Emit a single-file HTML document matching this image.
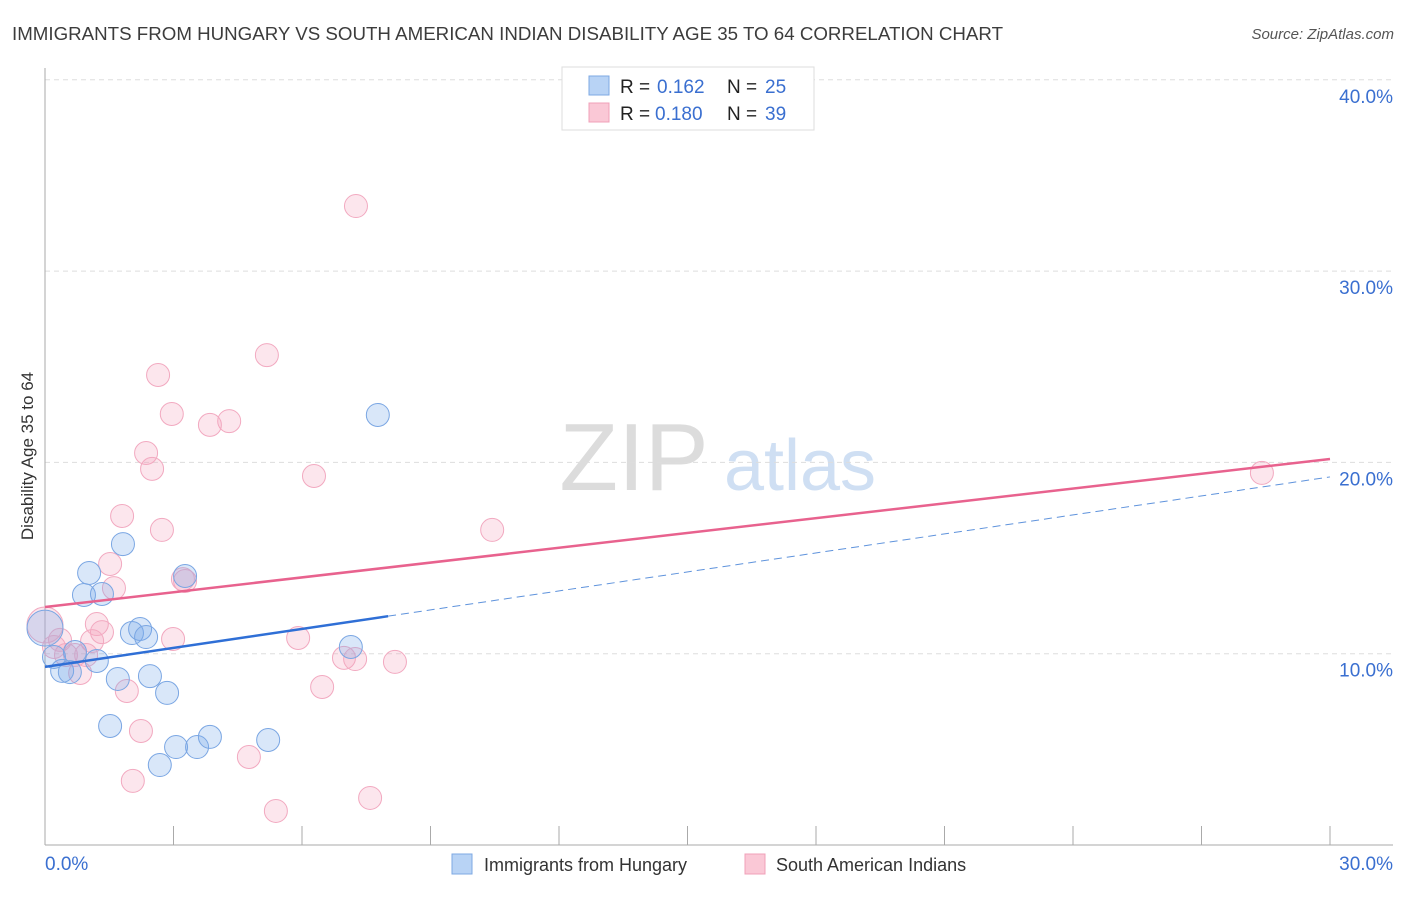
<!DOCTYPE html>
<html><head><meta charset="utf-8"><style>
body{margin:0;background:#fff;font-family:"Liberation Sans",sans-serif}
svg text{font-family:"Liberation Sans",sans-serif}
</style></head><body>
<svg id="chart" width="1406" height="892" xmlns="http://www.w3.org/2000/svg">
<text x="12" y="40" font-size="18" fill="#3c3c3c" textLength="991" lengthAdjust="spacingAndGlyphs">IMMIGRANTS FROM HUNGARY VS SOUTH AMERICAN INDIAN DISABILITY AGE 35 TO 64 CORRELATION CHART</text>
<text x="1394" y="39" font-size="15" fill="#555" text-anchor="end" font-style="italic">Source: ZipAtlas.com</text>
<text transform="translate(33,456) rotate(-90)" font-size="17" fill="#333" text-anchor="middle">Disability Age 35 to 64</text>
<g>
<text x="634" y="490" font-size="96" font-family="Liberation Serif" fill="#dcdcdc" text-anchor="middle">ZIP</text>
<text x="800" y="490" font-size="72" fill="#cfdff3" text-anchor="middle">atlas</text>
</g>
<g id="grid"></g><g id="axes"></g><g id="marks"></g><g id="trends"></g>
<g>
<rect x="562" y="67" width="252" height="63" fill="#fff" stroke="#ddd"/>
<rect x="589" y="76" width="20" height="19" fill="#b8d3f5" stroke="#7ea8e3"/>
<rect x="589" y="103" width="20" height="19" fill="#fac8d6" stroke="#f0a0b8"/>
<text x="620" y="93" font-size="19" fill="#222">R =</text>
<text x="657" y="93" font-size="19" fill="#3a6fd0">0.162</text>
<text x="727" y="93" font-size="19" fill="#222">N =</text>
<text x="765" y="93" font-size="19" fill="#3a6fd0">25</text>
<text x="620" y="120" font-size="19" fill="#222">R =</text>
<text x="655" y="120" font-size="19" fill="#3a6fd0">0.180</text>
<text x="727" y="120" font-size="19" fill="#222">N =</text>
<text x="765" y="120" font-size="19" fill="#3a6fd0">39</text>
</g>
<g>
<rect x="452" y="854" width="20" height="20" fill="#b8d3f5" stroke="#7ea8e3"/>
<text x="484" y="871" font-size="18" fill="#333">Immigrants from Hungary</text>
<rect x="745" y="854" width="20" height="20" fill="#fac8d6" stroke="#f0a0b8"/>
<text x="776" y="871" font-size="18" fill="#333">South American Indians</text>
</g>
</svg>
<script>
const blueX=[1.82,1.03,0.91,1.33,3.27,2.03,2.22,2.36,1.21,0.70,1.70,2.45,2.85,1.52,3.06,3.55,3.85,2.68,5.21,7.14,7.77,0.40,0.58,0.21,0.0];
const blueY=[15.73,14.22,13.07,13.12,14.06,11.08,11.29,10.87,9.62,10.09,8.68,8.83,7.95,6.22,5.12,5.12,5.65,4.18,5.49,10.35,22.48,9.10,9.04,9.83,11.34];
const pinkX=[7.26,5.18,2.64,2.96,4.30,3.85,2.36,2.50,6.28,1.80,2.73,10.44,1.52,3.27,1.61,1.21,1.33,1.10,0.35,2.99,5.91,0.49,0.70,6.98,7.24,8.17,0.82,6.47,1.91,2.24,4.76,2.05,5.39,7.59,28.41,0.0,0.21,0.96,3.22];
const pinkY=[33.40,25.61,24.57,22.53,22.16,21.96,20.49,19.66,19.29,17.20,16.47,16.47,14.69,13.80,13.43,11.55,11.13,10.66,10.72,10.77,10.82,9.93,9.93,9.78,9.72,9.57,8.99,8.26,8.05,5.96,4.60,3.35,1.78,2.46,19.45,11.50,10.35,9.93,13.90];
const yTicks=[10,20,30,40];
const yTickLabels=["10.0%","20.0%","30.0%","40.0%"];
const xTicks=[0,3,6,9,12,15,18,21,24,27,30];
const blueTrend=[9.31,0.331,8.01];
const pinkTrend=[12.44,0.258];
const NS="http://www.w3.org/2000/svg";
const sx=v=>45+v*1285/30, sy=v=>845-v*19.13;
function mk(p,t,a){const e=document.createElementNS(NS,t);for(const k in a)e.setAttribute(k,a[k]);document.getElementById(p).appendChild(e);return e;}
yTicks.forEach((t,i)=>{
 const l=mk('grid','line',{x1:45,x2:1393,y1:sy(t),y2:sy(t),stroke:'#ddd','stroke-dasharray':'5,4'});
 
 
 const tx=mk('grid','text',{x:1393,y:sy(t)+23,'font-size':19,fill:'#3a6fd0','text-anchor':'end'});
 tx.textContent=yTickLabels[i];
 
 
});
let a=mk('axes','line',{x1:45,x2:45,y1:68,y2:845,stroke:'#aaa'});


a=mk('axes','line',{x1:45,x2:1393,y1:845,y2:845,stroke:'#aaa'});


xTicks.forEach(t=>{const l=mk('axes','line',{x1:sx(t),x2:sx(t),y1:826,y2:845,stroke:'#aaa'});
 
 });
a=mk('axes','text',{x:45,y:870,'font-size':19,fill:'#3a6fd0'});a.textContent='0.0%';


a=mk('axes','text',{x:1393,y:870,'font-size':19,fill:'#3a6fd0','text-anchor':'end'});a.textContent='30.0%';


function pts(X,Y,fill,stroke,name){X.forEach((x,i)=>{const big=(x===0);const c=mk('marks','circle',{cx:sx(x),cy:sy(Y[i]),r:big?18:11.5,fill:fill,stroke:stroke,'stroke-width':1});
 
 });}
pts(pinkX,pinkY,'rgba(245,165,190,0.28)','#f2a9c0','pink-point');
pts(blueX,blueY,'rgba(120,170,235,0.28)','#7aa6e3','blue-point');
let t=mk('trends','line',{x1:sx(0),y1:sy(pinkTrend[0]),x2:sx(30),y2:sy(pinkTrend[0]+pinkTrend[1]*30),stroke:'#e8628e','stroke-width':2.5});


t=mk('trends','line',{x1:sx(0),y1:sy(blueTrend[0]),x2:sx(blueTrend[2]),y2:sy(blueTrend[0]+blueTrend[1]*blueTrend[2]),stroke:'#2f6fd6','stroke-width':2.5});


t=mk('trends','line',{x1:sx(blueTrend[2]),y1:sy(blueTrend[0]+blueTrend[1]*blueTrend[2]),x2:sx(30),y2:sy(blueTrend[0]+blueTrend[1]*30),stroke:'#5f93dc','stroke-width':1,'stroke-dasharray':'8,5'});


</script>
</body></html>
